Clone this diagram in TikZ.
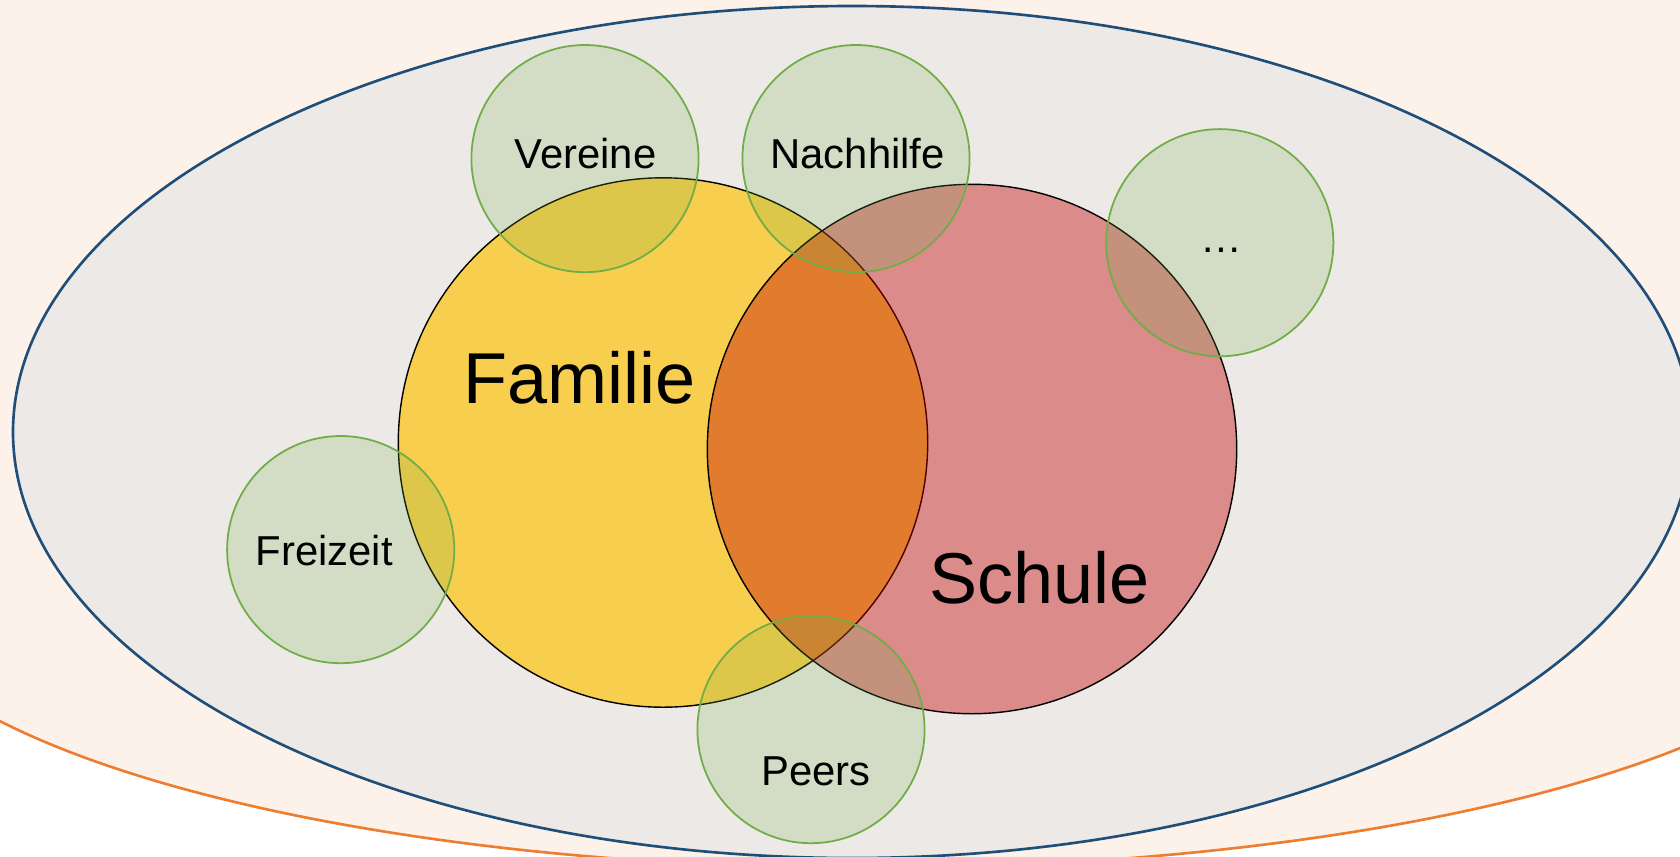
\documentclass[tikz,border=0pt]{standalone}
\usepackage{fontspec}
\setmainfont{Liberation Sans}
\usetikzlibrary{positioning}
\definecolor{bgcream}{HTML}{FCF2EA}
\definecolor{envgrey}{HTML}{ECE9E6}
\definecolor{envblue}{HTML}{1F4E79}
\definecolor{envorange}{HTML}{ED7D31}
\definecolor{famyellow}{HTML}{F7CE4D}
\definecolor{schulred}{HTML}{C00000}
\definecolor{ctxgreen}{HTML}{70AD47}

\begin{document}
\begin{tikzpicture}[
      bigsphere/.style={circle, draw=black, line width=0.4pt, minimum size=5.294cm, inner sep=0pt},
      smallsphere/.style={circle, draw=ctxgreen, line width=0.5pt, fill=ctxgreen, fill opacity=0.2, minimum size=2.272cm, inner sep=0pt},
      biglabel/.style={anchor=base, font=\fontsize{20.5}{24}\selectfont},
      smalllabel/.style={anchor=base, font=\fontsize{11.9}{14}\selectfont}
    ]
      \useasboundingbox (0,0) rectangle (16.8,8.56);
      \begin{scope}
        \clip (0,0) rectangle (16.8,8.56);
        % Hintergrund
        \fill[bgcream] (0,0) rectangle (16.8,8.56);
        \fill[white] (0,0) rectangle (16.8,2.78);
        \fill[bgcream] (8.70,2.78) ellipse [x radius=10, y radius=2.9];
        \draw[envorange, line width=0.75pt] (-1.30,2.78) arc [start angle=180, end angle=360, x radius=10, y radius=2.9];
        % Umwelt
        \draw[envblue, fill=envgrey, line width=0.75pt] (8.52,4.24) ellipse [x radius=8.39, y radius=4.26];
      \end{scope}

      \node[bigsphere, fill=famyellow] (familie) at (6.63,4.135) {};
      \node[bigsphere, fill=schulred, fill opacity=0.4] (schule) at (9.72,4.07) {};

      % Kontexte
      \foreach \nm/\x/\y in {vereine/5.85/6.974, nachhilfe/8.56/6.974, weitere/12.198/6.133, freizeit/3.407/3.064, peers/8.11/1.264} {
        \node[smallsphere] (\nm) at (\x,\y) {};
      }

      \node[biglabel] (familietext) at (5.795,4.53) {Familie};
      \node[biglabel] (schuletext) at (10.395,2.53) {Schule};
      \node[smalllabel] (vereinetext) at (5.856,6.88) {Vereine};
      \node[smalllabel] (nachhilfetext) at (8.576,6.88) {Nachhilfe};
      \node[smalllabel] (weiteretext) at (12.217,6.04) {…};
      \node[smalllabel] (freizeittext) at (3.243,2.91) {Freizeit};
      \node[smalllabel] (peerstext) at (8.158,0.71) {Peers};
    \end{tikzpicture}
\end{document}
